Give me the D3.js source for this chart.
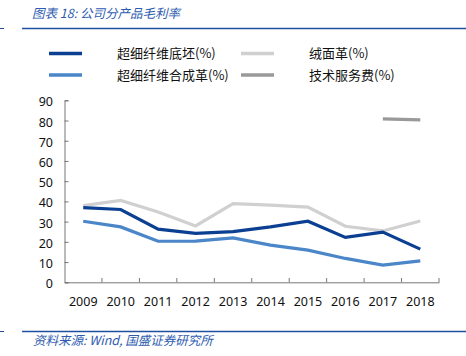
<!DOCTYPE html>
<html><head><meta charset="utf-8">
<script src="https://cdn.jsdelivr.net/npm/d3@7"></script>
<style>body{margin:0;background:#fff}svg{display:block}</style>
</head><body>
<svg id="c" width="466" height="356"></svg>
<script>
const years = ["2009","2010","2011","2012","2013","2014","2015","2016","2017","2018"];
const seriesNames = ["超细纤维底坯(%)","绒面革(%)","超细纤维合成革(%)","技术服务费(%)"];
const base = [36.9,36.0,26.3,24.2,25.1,27.4,30.2,22.2,24.8,16.4];
const suede = [37.9,40.5,34.8,27.9,38.9,38.2,37.2,27.7,25.4,30.3];
const synth = [30.2,27.4,20.3,20.4,22.0,18.4,15.9,11.8,8.5,10.6];
const service = [null,null,null,null,null,null,null,null,80.8,80.3];
const yTicks = [0,10,20,30,40,50,60,70,80,90];
const colors = ["#0a3f92","#d0d0d0","#4a86c8","#999999"];

const svg = d3.select("#c");
const font = "'Noto Sans', 'DejaVu Sans', sans-serif";
const cjk = "'Noto Sans CJK SC', sans-serif";
const blue = "#2d5bb0";

// header / footer rules
svg.append("line").attr("x1",0).attr("x2",4).attr("y1",28.5).attr("y2",28.5).attr("stroke","#1f4fa0").attr("stroke-width",1);
svg.append("line").attr("x1",22).attr("x2",466).attr("y1",28.5).attr("y2",28.5).attr("stroke","#1f4fa0").attr("stroke-width",1.5);
svg.append("line").attr("x1",0).attr("x2",4).attr("y1",331.5).attr("y2",331.5).attr("stroke","#1f4fa0").attr("stroke-width",1);
svg.append("line").attr("x1",22).attr("x2",466).attr("y1",331.5).attr("y2",331.5).attr("stroke","#1f4fa0").attr("stroke-width",1.5);
svg.append("text").attr("x",32).attr("y",18).attr("font-family",cjk).attr("font-size",12.5).attr("font-style","italic").attr("fill",blue).text("图表 18:  公司分产品毛利率");
svg.append("text").attr("x",33).attr("y",345).attr("font-family",cjk).attr("font-size",12.5).attr("font-style","italic").attr("fill",blue).text("资料来源: Wind, 国盛证券研究所");

const x = d3.scaleBand().domain(years).range([64.5,439]);
const y = d3.scaleLinear().domain([0,90]).range([282.3,100.3]);

// axes
const gy = svg.append("g").attr("transform","translate(64.5,0)")
  .call(d3.axisRight(y).tickValues(yTicks).tickSize(4).tickFormat(d3.format("d")));
gy.select(".domain").attr("stroke","#777");
gy.selectAll(".tick line").attr("stroke","#777");
gy.selectAll(".tick text").attr("x",-11.5).attr("dy",5.5).attr("text-anchor","end").attr("font-family",font).attr("font-size",12.5).attr("fill","#111");

const gx = svg.append("g").attr("transform","translate(0,282.3)")
  .call(d3.axisTop(x).tickSize(0).tickSizeOuter(0));
gx.select(".domain").attr("stroke","#777");
gx.selectAll(".tick text").attr("y",23.4).attr("dy",0).attr("font-family",font).attr("font-size",12.5).attr("fill","#111");
// boundary ticks
svg.append("g").selectAll("line").data(years.slice(1).concat(["end"])).join("line")
  .attr("x1",d=>d==="end"?x.range()[1]:x(d)).attr("x2",d=>d==="end"?x.range()[1]:x(d))
  .attr("y1",282.3).attr("y2",278).attr("stroke","#777");

const line = d3.line().defined(d=>d[1]!=null).x(d=>x(d[0])+x.bandwidth()/2).y(d=>y(d[1]));
const all = [base,suede,synth,service];
const order = [1,2,0,3];
order.forEach(i=>{
  svg.append("path").datum(years.map((yr,k)=>[yr,all[i][k]]))
    .attr("d",line).attr("fill","none").attr("stroke",colors[i]).attr("stroke-width",3.2);
});

// legend
const leg = [
  {i:0,x:49,y:53.5},{i:1,x:241,y:53.5},{i:2,x:49,y:75},{i:3,x:241,y:75}
];
leg.forEach(l=>{
  svg.append("line").attr("x1",l.x).attr("x2",l.x+33).attr("y1",l.y).attr("y2",l.y).attr("stroke",colors[l.i]).attr("stroke-width",3.5);
  svg.append("text").attr("x",l.x+68).attr("y",l.y+4.5).attr("font-family",cjk).attr("font-size",13).attr("fill","#111").text(seriesNames[l.i]);
});
</script>
</body></html>
